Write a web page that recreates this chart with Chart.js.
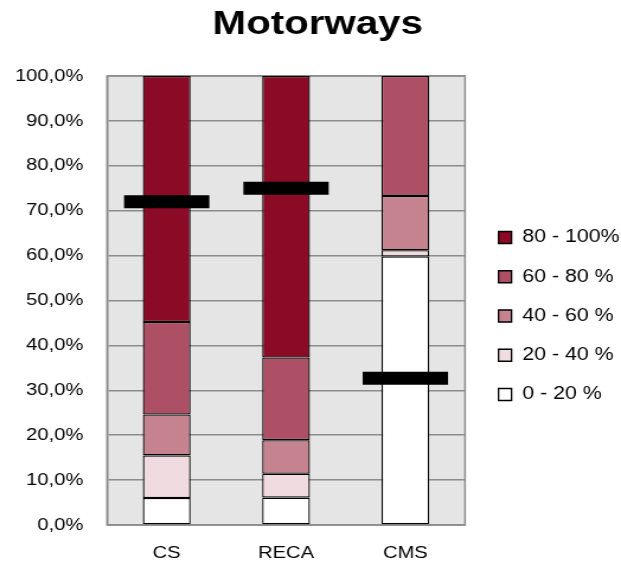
<!DOCTYPE html>
<html>
<head>
<meta charset="utf-8">
<title>Motorways</title>
<script src="https://cdn.jsdelivr.net/npm/chart.js@4/dist/chart.umd.min.js"></script>
<style>
  html, body { margin: 0; padding: 0; background: #ffffff; overflow: hidden; }
  #chart { display: block; }
</style>
</head>
<body>
<!-- drawn on a 524px-wide canvas, shown 621px wide -->
<canvas id="chart" width="524" height="564" style="width:621px;height:564px"></canvas>
<script>
// Category labels and share of each band per category (%)
const categories = ['CS', 'RECA', 'CMS'];
const band0to20 = [6.0, 6.1, 59.8];
const band20to40 = [9.5, 5.3, 1.4];
const band40to60 = [9.1, 7.5, 12.1];
const band60to80 = [20.6, 18.4, 26.7];
const band80to100 = [54.8, 62.7, 0];
// Black level markers per category (%)
const markerLevel = [72.0, 75.0, 32.7];

const seriesNames = ['0 - 20 %', '20 - 40 %', '40 - 60 %', '60 - 80 %', '80 - 100%'];
const seriesColors = ['#ffffff', '#f0dbe0', '#c5828f', '#ad5066', '#8b0a25'];
const yTickLabels = ['0,0%', '10,0%', '20,0%', '30,0%', '40,0%', '50,0%',
                     '60,0%', '70,0%', '80,0%', '90,0%', '100,0%'];

const FONT = "'Liberation Sans', Arial, sans-serif";

// Grey plot area with a grey frame
const plotBackground = {
  id: 'plotBackground',
  beforeDraw(chart) {
    const { ctx, chartArea: a } = chart;
    ctx.save();
    ctx.fillStyle = '#e5e5e5';
    ctx.fillRect(a.left, a.top, a.width, a.height);
    ctx.strokeStyle = '#8c8c8c';
    ctx.lineWidth = 1.5;
    ctx.strokeRect(a.left, a.top, a.width, a.height);
    ctx.restore();
  }
};

// Nudges the legend away from the plot frame and centres the title a bit further right
const blockOffsets = {
  id: 'blockOffsets',
  afterLayout(chart) {
    const lg = chart.legend;
    if (lg) { lg.left += 7; lg.right += 7; }
    const tb = chart.titleBlock;
    if (tb) { tb.left += 5.5; tb.right += 5.5; }
  }
};

const bandValues = [band0to20, band20to40, band40to60, band60to80, band80to100];

const datasets = bandValues.map((vals, i) => ({
  type: 'bar',
  label: seriesNames[i],
  data: vals,
  backgroundColor: seriesColors[i],
  borderColor: '#000000',
  borderWidth: 1.3,
  borderSkipped: false,
  stack: 'bands',
  barPercentage: 0.4,
  categoryPercentage: 1.0,
  order: 2
}));

// Thick horizontal level markers
datasets.push({
  type: 'line',
  label: '',
  data: markerLevel,
  showLine: false,
  stack: 'marker',
  pointStyle: 'line',
  pointRadius: 36,
  pointHoverRadius: 36,
  pointBorderWidth: 13,
  pointHoverBorderWidth: 13,
  borderColor: '#000000',
  backgroundColor: '#000000',
  order: 1
});

new Chart(document.getElementById('chart'), {
  type: 'bar',
  data: { labels: categories, datasets },
  plugins: [plotBackground, blockOffsets],
  options: {
    responsive: false,
    animation: false,
    devicePixelRatio: 1,
    layout: { autoPadding: false, padding: { left: 8, right: 6.8, top: 0, bottom: 0 } },
    plugins: {
      title: {
        display: true,
        text: 'Motorways',
        color: '#000000',
        font: { family: FONT, size: 34, weight: 'bold' },
        padding: { top: 4, bottom: 31.2 }
      },
      legend: {
        position: 'right',
        reverse: true,
        maxWidth: 124.8,
        title: { display: true, text: ' ', font: { family: FONT, size: 15 }, padding: { top: 50, bottom: 0 } },
        labels: {
          color: '#000000',
          font: { family: FONT, size: 18 },
          boxWidth: 11,
          boxHeight: 12,
          padding: 21.25,
          filter: (item) => item.text !== ''
        }
      },
      tooltip: { enabled: false }
    },
    scales: {
      x: {
        stacked: true,
        grid: { display: false, drawTicks: true, tickLength: 15, tickColor: 'rgba(0,0,0,0)' },
        border: { display: true, color: '#8c8c8c', width: 1.5 },
        ticks: { color: '#000000', font: { family: FONT, size: 17 }, padding: 3 },
        afterFit(scale) { scale.height = 39; }
      },
      y: {
        stacked: true,
        min: 0,
        max: 100,
        grid: { color: '#8c8c8c', lineWidth: 1.5, drawTicks: true, tickLength: 17, tickColor: 'rgba(0,0,0,0)' },
        border: { display: true, color: '#8c8c8c', width: 1.5 },
        ticks: {
          stepSize: 10,
          color: '#000000',
          font: { family: FONT, size: 17 },
          padding: 3,
          callback: (value, index) => yTickLabels[index]
        },
        afterFit(scale) { scale.width = 82.3; }
      }
    }
  }
});
</script>
</body>
</html>
